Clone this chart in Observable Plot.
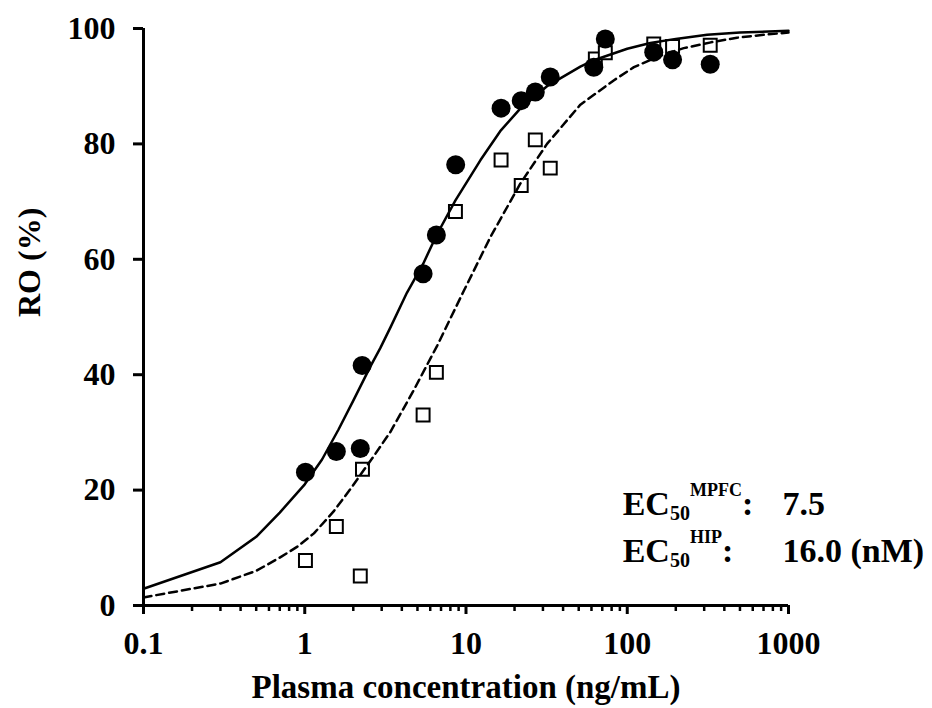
<!DOCTYPE html>
<html>
<head>
<meta charset="utf-8">
<script src="https://cdn.jsdelivr.net/npm/d3@7"></script>
<script src="https://cdn.jsdelivr.net/npm/@observablehq/plot@0.6"></script>
<style>
  html, body { margin: 0; padding: 0; background: #fff; }
  svg { display: block; }
</style>
</head>
<body>
<script>
// ---- data ----
const mpfcX = [1.01, 1.57, 2.21, 2.27, 5.42, 6.55, 8.63, 16.5, 22.0, 26.9, 33.3, 62.0, 73.1, 146, 191, 327];
const mpfcY = [23.1, 26.7, 27.2, 41.6, 57.5, 64.2, 76.4, 86.2, 87.5, 89.0, 91.6, 93.3, 98.2, 95.9, 94.6, 93.8];

const hipX = [1.01, 1.57, 2.21, 2.28, 5.42, 6.55, 8.6, 16.5, 22.0, 26.9, 33.3, 63.4, 73.1, 146, 191, 327];
const hipY = [7.8, 13.7, 5.1, 23.6, 33.0, 40.4, 68.3, 77.2, 72.8, 80.7, 75.8, 94.7, 95.8, 97.3, 96.9, 97.1];

// fitted curves
const fitMpfcX = [0.1, 0.3, 0.5, 0.7, 1.0, 1.28, 1.62, 2.0, 2.55, 2.94, 3.4, 4.3, 5.42, 6.6, 8.6, 12.3, 16.3, 21.7, 31.8, 51.2, 62, 100, 139, 200, 313, 500, 1000];
const fitMpfcY = [2.9, 7.5, 11.9, 16.1, 21.0, 25.3, 30.5, 35.5, 41.4, 44.6, 48.2, 54.2, 59.2, 64.3, 70.2, 77.2, 82.2, 86.1, 90.0, 93.4, 94.5, 96.5, 97.5, 98.2, 98.9, 99.3, 99.6];

const fitHipX = [0.1, 0.3, 0.5, 0.7, 0.9, 1.14, 1.51, 1.92, 2.68, 3.4, 4.74, 6.62, 9.68, 14.2, 21.7, 31.8, 51.2, 82.4, 110, 160, 224, 330, 479, 700, 1000];
const fitHipY = [1.4, 3.8, 6.0, 8.3, 10.2, 12.5, 16.3, 20.2, 25.9, 30.1, 37.3, 45.0, 54.5, 63.9, 73.1, 80.0, 86.8, 91.0, 93.3, 95.3, 96.6, 97.6, 98.4, 98.9, 99.3];

const xMajorTicks = [0.1, 1, 10, 100, 1000];
const xMajorLabels = ["0.1", "1", "10", "100", "1000"];
const yTicks = [0, 20, 40, 60, 80, 100];
const xTitle = "Plasma concentration (ng/mL)";
const yTitle = "RO (%)";
const ecRegions = ["MPFC", "HIP"];
const ecValues = ["7.5", "16.0 (nM)"];

// ---- tables ----
const mpfc = mpfcX.map((x, i) => ({x, y: mpfcY[i]}));
const hip = hipX.map((x, i) => ({x, y: hipY[i]}));
const fitMpfc = fitMpfcX.map((x, i) => ({x, y: fitMpfcY[i]}));
const fitHip = fitHipX.map((x, i) => ({x, y: fitHipY[i]}));
const xMinorTicks = d3.scaleLog().domain([0.1, 1000]).ticks().filter(t => !xMajorTicks.some(m => Math.abs(m - t) < 1e-9));

const FONT = "'Liberation Serif', 'Times New Roman', serif";

const chart = Plot.plot({
  width: 932,
  height: 708,
  marginLeft: 143,
  marginRight: 144,
  marginTop: 28,
  marginBottom: 103,
  style: {fontFamily: FONT, fontWeight: "bold", color: "black", background: "white"},
  x: {type: "log", domain: [0.1, 1000], label: null},
  y: {domain: [0, 100], label: null},
  marks: [
    Plot.axisX(xMinorTicks, {tickSize: 6, strokeWidth: 2.5, tickFormat: () => "", label: null}),
    Plot.axisX(xMajorTicks, {
      tickSize: 9, strokeWidth: 3, tickPadding: 17,
      tickFormat: (d) => xMajorLabels[xMajorTicks.indexOf(d)],
      fontSize: 32, fontWeight: "bold", label: null
    }),
    Plot.axisY(yTicks, {tickSize: 10, strokeWidth: 3, tickPadding: 18, fontSize: 32, fontWeight: "bold", label: null}),
    Plot.ruleY([0], {strokeWidth: 3}),
    Plot.ruleX([0.1], {strokeWidth: 3}),
    Plot.dot(hip, {x: "x", y: "y", symbol: "square", r: 7.3, fill: "white", stroke: "black", strokeWidth: 2}),
    Plot.line(fitHip, {x: "x", y: "y", stroke: "black", strokeWidth: 2.5, strokeDasharray: "8,5"}),
    Plot.line(fitMpfc, {x: "x", y: "y", stroke: "black", strokeWidth: 2.5}),
    Plot.dot(mpfc, {x: "x", y: "y", r: 9.5, fill: "black", stroke: "none"}),
    Plot.text([xTitle], {frameAnchor: "bottom", dy: 92, fontSize: 33, fontWeight: "bold", text: d => d}),
    Plot.text([yTitle], {frameAnchor: "left", dx: -114, rotate: -90, fontSize: 32, fontWeight: "bold", text: d => d})
  ]
});

// EC50 annotation with sub/superscripts
const svg = d3.select(chart.tagName.toLowerCase() === "svg" ? chart : chart.querySelector("svg"));
const annX = 622.7, valX = 782.5, baselines = [515, 562];
ecRegions.forEach((reg, i) => {
  const t = svg.append("text")
    .attr("x", annX).attr("y", baselines[i])
    .attr("text-anchor", "start")
    .attr("font-family", FONT).attr("font-weight", "bold").attr("font-size", 34).attr("fill", "black");
  t.append("tspan").text("EC");
  t.append("tspan").attr("font-size", 20).attr("dy", 5).text("50");
  t.append("tspan").attr("font-size", 18).attr("dy", -24).text(reg);
  t.append("tspan").attr("dy", 19).text(":");
  t.append("tspan").attr("x", valX).text(ecValues[i]);
});

document.body.append(chart);
</script>
</body>
</html>
